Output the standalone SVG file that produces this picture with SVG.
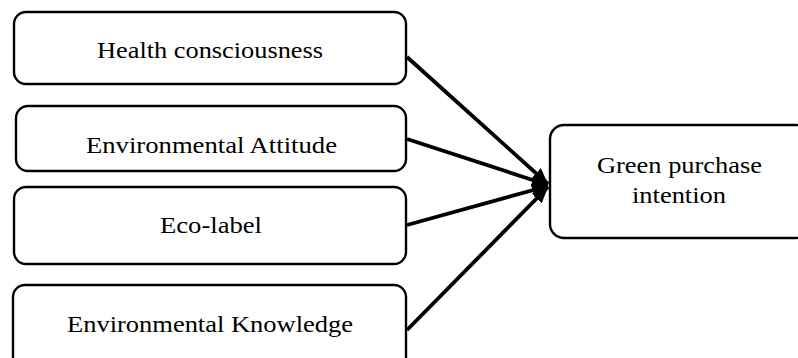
<svg xmlns="http://www.w3.org/2000/svg" width="798" height="358" viewBox="0 0 798 358">
<style>
.box{fill:#fff;stroke:#000;stroke-width:2.4}
.lbl{font-family:"Liberation Serif","Times New Roman",serif;font-size:24px;fill:#000;text-anchor:middle}
.conn{stroke:#000;stroke-width:3.8;fill:none;marker-end:url(#ah)}
</style>
<defs>
<marker id="ah" markerUnits="userSpaceOnUse" markerWidth="18" markerHeight="14" refX="16" refY="7" orient="auto">
<path d="M0,0 L16,7 L0,14 Z" fill="#000"/>
</marker>
</defs>
<g id="n1"><rect class="box" x="14" y="12" width="392" height="72" rx="12"/><text class="lbl" x="210" y="58" textLength="226" lengthAdjust="spacingAndGlyphs">Health consciousness</text></g>
<g id="n2"><rect class="box" x="16" y="106" width="390" height="65" rx="12"/><text class="lbl" x="211.5" y="153" textLength="251" lengthAdjust="spacingAndGlyphs">Environmental Attitude</text></g>
<g id="n3"><rect class="box" x="14" y="187" width="392" height="77" rx="12"/><text class="lbl" x="211" y="233" textLength="102" lengthAdjust="spacingAndGlyphs">Eco-label</text></g>
<g id="n4"><rect class="box" x="13" y="285" width="393" height="90" rx="12"/><text class="lbl" x="210" y="332" textLength="286" lengthAdjust="spacingAndGlyphs">Environmental Knowledge</text></g>
<g id="n5"><rect class="box" x="550" y="125" width="260" height="113" rx="14"/><text class="lbl" x="679.5" y="173" textLength="165" lengthAdjust="spacingAndGlyphs">Green purchase</text><text class="lbl" x="679" y="203" textLength="94" lengthAdjust="spacingAndGlyphs">intention</text></g>
<g id="connectors">
<line class="conn" x1="407" y1="57" x2="548" y2="184"/>
<line class="conn" x1="407" y1="139" x2="548" y2="185"/>
<line class="conn" x1="407" y1="225" x2="548" y2="186"/>
<line class="conn" x1="407" y1="330" x2="548" y2="187"/>
</g>
</svg>
